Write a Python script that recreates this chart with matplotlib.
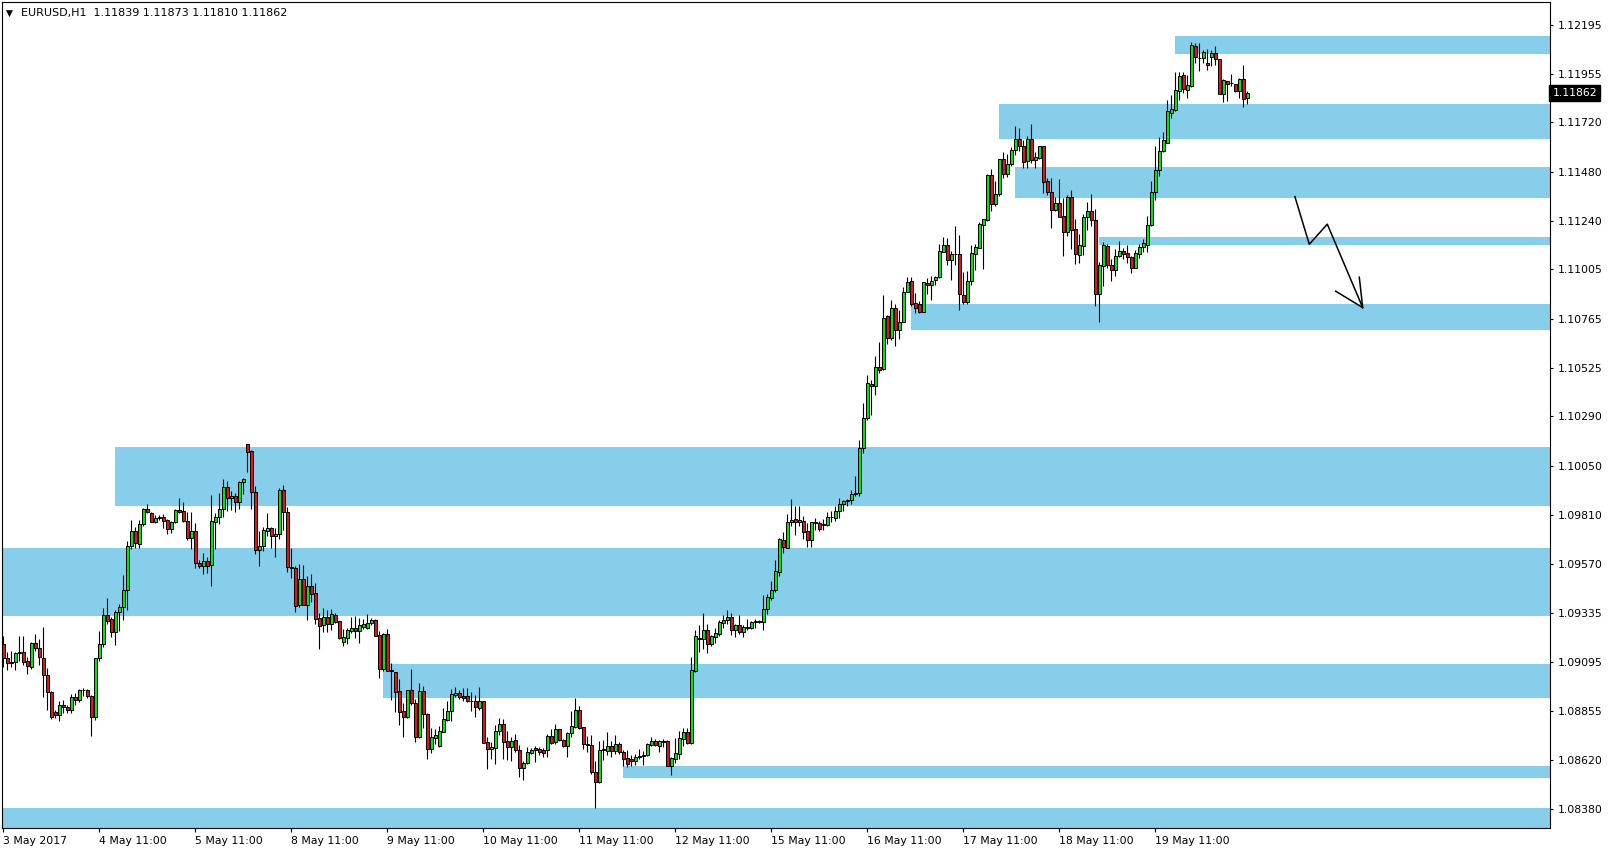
import numpy as np
import matplotlib.pyplot as plt
from matplotlib.patches import Rectangle

symbol = "EURUSD,H1"

# hourly candles, 3 May 11:00 -> 19 May
opens = [
    1.09183, 1.09113, 1.09095, 1.09094, 1.09138, 1.09142, 1.09100, 1.09068, 1.09186, 1.09162,
    1.09113, 1.09031, 1.08948, 1.08851, 1.08836, 1.08885, 1.08875, 1.08861, 1.08924, 1.08909,
    1.08959, 1.08957, 1.08930, 1.08825, 1.09113, 1.09181, 1.09322, 1.09304, 1.09238, 1.09337,
    1.09364, 1.09445, 1.09659, 1.09732, 1.09667, 1.09766, 1.09839, 1.09820, 1.09777, 1.09795,
    1.09800, 1.09784, 1.09740, 1.09776, 1.09833, 1.09829, 1.09779, 1.09696, 1.09732, 1.09577,
    1.09559, 1.09586, 1.09564, 1.09777, 1.09799, 1.09837, 1.09944, 1.09894, 1.09901, 1.09875,
    1.09969, 1.10153, 1.10119, 1.09920, 1.09637, 1.09658, 1.09734, 1.09745, 1.09705, 1.09718,
    1.09931, 1.09826, 1.09556, 1.09554, 1.09374, 1.09497, 1.09374, 1.09465, 1.09429, 1.09308,
    1.09272, 1.09314, 1.09277, 1.09324, 1.09295, 1.09194, 1.09213, 1.09246, 1.09259, 1.09243,
    1.09264, 1.09262, 1.09282, 1.09298, 1.09227, 1.09058, 1.09230, 1.09056, 1.09044, 1.08954,
    1.08856, 1.08829, 1.08958, 1.08894, 1.08732, 1.08954, 1.08840, 1.08673, 1.08723, 1.08688,
    1.08753, 1.08813, 1.08855, 1.08934, 1.08942, 1.08929, 1.08929, 1.08905, 1.08905, 1.08869,
    1.08905, 1.08704, 1.08670, 1.08675, 1.08759, 1.08793, 1.08709, 1.08683, 1.08714, 1.08668,
    1.08578, 1.08602, 1.08651, 1.08675, 1.08672, 1.08667, 1.08664, 1.08735, 1.08707, 1.08769,
    1.08715, 1.08688, 1.08748, 1.08777, 1.08861, 1.08779, 1.08696, 1.08691, 1.08560, 1.08510,
    1.08668, 1.08660, 1.08687, 1.08660, 1.08697, 1.08656, 1.08629, 1.08624, 1.08611, 1.08632,
    1.08637, 1.08640, 1.08692, 1.08711, 1.08684, 1.08708, 1.08711, 1.08587, 1.08623, 1.08647,
    1.08721, 1.08755, 1.08698, 1.09053, 1.09212, 1.09205, 1.09251, 1.09181, 1.09214, 1.09230,
    1.09283, 1.09298, 1.09314, 1.09249, 1.09273, 1.09238, 1.09265, 1.09262, 1.09290, 1.09293,
    1.09290, 1.09351, 1.09408, 1.09443, 1.09532, 1.09689, 1.09647, 1.09773, 1.09791, 1.09773,
    1.09781, 1.09732, 1.09686, 1.09776, 1.09771, 1.09760, 1.09763, 1.09799, 1.09793, 1.09827,
    1.09862, 1.09877, 1.09880, 1.09911, 1.09916, 1.10135, 1.10281, 1.10448, 1.10435, 1.10529,
    1.10521, 1.10775, 1.10670, 1.10815, 1.10707, 1.10747, 1.10892, 1.10947, 1.10840, 1.10837,
    1.10799, 1.10937, 1.10926, 1.10950, 1.10965, 1.11088, 1.11123, 1.11052, 1.11078, 1.11078,
    1.10880, 1.10845, 1.10947, 1.11078, 1.11110, 1.11222, 1.11245, 1.11462, 1.11320, 1.11370,
    1.11540, 1.11467, 1.11515, 1.11585, 1.11640, 1.11606, 1.11533, 1.11637, 1.11536, 1.11546,
    1.11603, 1.11433, 1.11379, 1.11295, 1.11326, 1.11264, 1.11188, 1.11357, 1.11201, 1.11076,
    1.11120, 1.11258, 1.11289, 1.11245, 1.10882, 1.11021, 1.11120, 1.11023, 1.11002, 1.11067,
    1.11094, 1.11086, 1.11065, 1.11013, 1.11081, 1.11113, 1.11124, 1.11218, 1.11378, 1.11489,
    1.11578, 1.11621, 1.11767, 1.11780, 1.11874, 1.11950, 1.11877, 1.11894, 1.12091, 1.12033,
    1.12030, 1.12009, 1.12035, 1.12057, 1.12028, 1.11856, 1.11921, 1.11910, 1.11907, 1.11874,
    1.11931, 1.11839,
]
highs = [
    1.09222, 1.09144, 1.09146, 1.09142, 1.09222, 1.09219, 1.09121, 1.09193, 1.09230, 1.09206,
    1.09267, 1.09065, 1.08951, 1.08862, 1.08906, 1.08908, 1.08886, 1.08940, 1.08943, 1.08963,
    1.08966, 1.08963, 1.08935, 1.09115, 1.09243, 1.09355, 1.09408, 1.09313, 1.09348, 1.09376,
    1.09518, 1.09684, 1.09787, 1.09753, 1.09786, 1.09842, 1.09863, 1.09826, 1.09810, 1.09808,
    1.09813, 1.09790, 1.09782, 1.09837, 1.09893, 1.09873, 1.09826, 1.09826, 1.09769, 1.09591,
    1.09624, 1.09607, 1.09907, 1.09818, 1.09915, 1.09983, 1.09977, 1.09927, 1.09915, 1.09977,
    1.09988, 1.10156, 1.10126, 1.09951, 1.09732, 1.09753, 1.09818, 1.09753, 1.09745, 1.09939,
    1.09956, 1.09847, 1.09651, 1.09559, 1.09570, 1.09567, 1.09513, 1.09523, 1.09478, 1.09335,
    1.09358, 1.09348, 1.09351, 1.09332, 1.09295, 1.09254, 1.09262, 1.09311, 1.09319, 1.09308,
    1.09303, 1.09329, 1.09308, 1.09303, 1.09246, 1.09235, 1.09254, 1.09088, 1.09044, 1.09012,
    1.08897, 1.08958, 1.09060, 1.08913, 1.08991, 1.08978, 1.08845, 1.08772, 1.08769, 1.08785,
    1.08869, 1.08907, 1.08962, 1.08971, 1.08958, 1.08966, 1.08968, 1.08950, 1.08934, 1.08971,
    1.08905, 1.08732, 1.08707, 1.08788, 1.08821, 1.08816, 1.08759, 1.08728, 1.08745, 1.08691,
    1.08613, 1.08680, 1.08678, 1.08686, 1.08683, 1.08678, 1.08745, 1.08769, 1.08792, 1.08769,
    1.08720, 1.08756, 1.08858, 1.08921, 1.08881, 1.08779, 1.08736, 1.08740, 1.08613, 1.08708,
    1.08713, 1.08752, 1.08708, 1.08740, 1.08703, 1.08668, 1.08664, 1.08643, 1.08647, 1.08671,
    1.08663, 1.08700, 1.08729, 1.08719, 1.08716, 1.08721, 1.08716, 1.08632, 1.08726, 1.08760,
    1.08773, 1.08773, 1.09118, 1.09248, 1.09275, 1.09332, 1.09278, 1.09226, 1.09259, 1.09299,
    1.09324, 1.09346, 1.09332, 1.09278, 1.09324, 1.09275, 1.09303, 1.09295, 1.09303, 1.09299,
    1.09419, 1.09424, 1.09487, 1.09592, 1.09697, 1.09726, 1.09814, 1.09888, 1.09854, 1.09854,
    1.09805, 1.09770, 1.09776, 1.09797, 1.09778, 1.09791, 1.09825, 1.09831, 1.09854, 1.09893,
    1.09883, 1.09886, 1.09932, 1.10001, 1.10175, 1.10354, 1.10490, 1.10467, 1.10584, 1.10650,
    1.10880, 1.10780, 1.10856, 1.10835, 1.10807, 1.10919, 1.10968, 1.10965, 1.10888, 1.10851,
    1.10945, 1.10961, 1.10971, 1.10974, 1.11128, 1.11162, 1.11159, 1.11094, 1.11216, 1.11172,
    1.10992, 1.10997, 1.11122, 1.11127, 1.11235, 1.11251, 1.11467, 1.11493, 1.11434, 1.11542,
    1.11575, 1.11566, 1.11600, 1.11700, 1.11690, 1.11634, 1.11653, 1.11711, 1.11574, 1.11606,
    1.11606, 1.11449, 1.11449, 1.11355, 1.11444, 1.11350, 1.11366, 1.11391, 1.11248, 1.11175,
    1.11272, 1.11332, 1.11371, 1.11300, 1.11042, 1.11136, 1.11128, 1.11055, 1.11104, 1.11144,
    1.11109, 1.11123, 1.11067, 1.11096, 1.11128, 1.11150, 1.11262, 1.11432, 1.11602, 1.11647,
    1.11673, 1.11829, 1.11853, 1.11962, 1.11963, 1.11962, 1.11950, 1.12109, 1.12104, 1.12104,
    1.12069, 1.12077, 1.12069, 1.12091, 1.12028, 1.11929, 1.11921, 1.11955, 1.11907, 1.11934,
    1.11999, 1.11873,
]
lows = [
    1.09070, 1.09057, 1.09068, 1.09057, 1.09100, 1.09079, 1.09034, 1.09060, 1.09146, 1.09081,
    1.08924, 1.08859, 1.08818, 1.08822, 1.08809, 1.08846, 1.08846, 1.08846, 1.08885, 1.08901,
    1.08930, 1.08919, 1.08736, 1.08810, 1.09097, 1.09167, 1.09279, 1.09215, 1.09175, 1.09243,
    1.09300, 1.09345, 1.09643, 1.09651, 1.09648, 1.09758, 1.09821, 1.09773, 1.09769, 1.09786,
    1.09748, 1.09718, 1.09721, 1.09769, 1.09818, 1.09776, 1.09688, 1.09645, 1.09552, 1.09551,
    1.09523, 1.09526, 1.09466, 1.09646, 1.09766, 1.09802, 1.09829, 1.09834, 1.09826, 1.09839,
    1.09910, 1.10020, 1.09839, 1.09620, 1.09559, 1.09632, 1.09705, 1.09648, 1.09603, 1.09695,
    1.09735, 1.09530, 1.09505, 1.09340, 1.09360, 1.09374, 1.09301, 1.09384, 1.09280, 1.09157,
    1.09238, 1.09238, 1.09251, 1.09283, 1.09206, 1.09173, 1.09181, 1.09235, 1.09209, 1.09189,
    1.09254, 1.09256, 1.09275, 1.09223, 1.09018, 1.09050, 1.09050, 1.08910, 1.08853, 1.08788,
    1.08732, 1.08821, 1.08885, 1.08707, 1.08723, 1.08772, 1.08623, 1.08651, 1.08694, 1.08680,
    1.08753, 1.08809, 1.08809, 1.08923, 1.08913, 1.08907, 1.08902, 1.08858, 1.08829, 1.08861,
    1.08699, 1.08576, 1.08623, 1.08597, 1.08740, 1.08625, 1.08618, 1.08613, 1.08659, 1.08537,
    1.08521, 1.08597, 1.08646, 1.08610, 1.08642, 1.08634, 1.08630, 1.08694, 1.08696, 1.08712,
    1.08683, 1.08634, 1.08732, 1.08772, 1.08767, 1.08672, 1.08659, 1.08550, 1.08382, 1.08508,
    1.08619, 1.08643, 1.08630, 1.08647, 1.08647, 1.08587, 1.08583, 1.08587, 1.08595, 1.08624,
    1.08591, 1.08635, 1.08687, 1.08684, 1.08659, 1.08681, 1.08587, 1.08546, 1.08603, 1.08624,
    1.08687, 1.08695, 1.08695, 1.09048, 1.09141, 1.09158, 1.09136, 1.09170, 1.09186, 1.09222,
    1.09259, 1.09280, 1.09226, 1.09218, 1.09231, 1.09218, 1.09251, 1.09257, 1.09262, 1.09283,
    1.09248, 1.09327, 1.09397, 1.09436, 1.09515, 1.09627, 1.09647, 1.09754, 1.09713, 1.09757,
    1.09695, 1.09656, 1.09652, 1.09737, 1.09734, 1.09737, 1.09757, 1.09776, 1.09781, 1.09797,
    1.09827, 1.09854, 1.09864, 1.09903, 1.09903, 1.10111, 1.10270, 1.10294, 1.10394, 1.10500,
    1.10513, 1.10641, 1.10663, 1.10629, 1.10666, 1.10747, 1.10892, 1.10828, 1.10794, 1.10793,
    1.10797, 1.10885, 1.10853, 1.10929, 1.10961, 1.11088, 1.11026, 1.10953, 1.11026, 1.10807,
    1.10835, 1.10837, 1.10929, 1.11002, 1.11106, 1.11007, 1.11240, 1.11289, 1.11310, 1.11361,
    1.11449, 1.11452, 1.11507, 1.11560, 1.11580, 1.11499, 1.11499, 1.11523, 1.11499, 1.11540,
    1.11376, 1.11366, 1.11203, 1.11289, 1.11258, 1.11067, 1.11165, 1.11105, 1.11031, 1.11036,
    1.11075, 1.11196, 1.11216, 1.10824, 1.10746, 1.10921, 1.11010, 1.10948, 1.10973, 1.11063,
    1.11054, 1.11034, 1.10986, 1.11010, 1.11057, 1.11090, 1.11090, 1.11213, 1.11343, 1.11456,
    1.11573, 1.11618, 1.11738, 1.11772, 1.11829, 1.11861, 1.11840, 1.11889, 1.12007, 1.11971,
    1.12007, 1.11975, 1.11991, 1.11999, 1.11856, 1.11816, 1.11821, 1.11894, 1.11869, 1.11837,
    1.11792, 1.11810,
]
closes = [
    1.09113, 1.09089, 1.09089, 1.09138, 1.09144, 1.09095, 1.09073, 1.09188, 1.09162, 1.09117,
    1.09029, 1.08948, 1.08825, 1.08836, 1.08885, 1.08874, 1.08861, 1.08925, 1.08912, 1.08959,
    1.08956, 1.08927, 1.08825, 1.09113, 1.09181, 1.09322, 1.09296, 1.09238, 1.09337, 1.09363,
    1.09445, 1.09659, 1.09732, 1.09672, 1.09766, 1.09837, 1.09826, 1.09777, 1.09795, 1.09800,
    1.09782, 1.09740, 1.09776, 1.09833, 1.09826, 1.09779, 1.09696, 1.09732, 1.09575, 1.09559,
    1.09586, 1.09559, 1.09781, 1.09799, 1.09837, 1.09944, 1.09894, 1.09901, 1.09875, 1.09969,
    1.09983, 1.10114, 1.09920, 1.09637, 1.09658, 1.09737, 1.09745, 1.09705, 1.09718, 1.09931,
    1.09826, 1.09556, 1.09554, 1.09369, 1.09497, 1.09374, 1.09465, 1.09424, 1.09303, 1.09270,
    1.09314, 1.09277, 1.09329, 1.09291, 1.09212, 1.09215, 1.09251, 1.09259, 1.09243, 1.09275,
    1.09277, 1.09283, 1.09298, 1.09223, 1.09058, 1.09230, 1.09053, 1.09049, 1.08950, 1.08853,
    1.08829, 1.08958, 1.08894, 1.08732, 1.08954, 1.08840, 1.08670, 1.08728, 1.08738, 1.08759,
    1.08816, 1.08856, 1.08939, 1.08945, 1.08923, 1.08920, 1.08907, 1.08903, 1.08874, 1.08905,
    1.08702, 1.08670, 1.08681, 1.08759, 1.08793, 1.08707, 1.08683, 1.08711, 1.08668, 1.08578,
    1.08604, 1.08655, 1.08667, 1.08664, 1.08659, 1.08654, 1.08735, 1.08702, 1.08769, 1.08715,
    1.08688, 1.08751, 1.08783, 1.08861, 1.08775, 1.08694, 1.08689, 1.08557, 1.08513, 1.08668,
    1.08672, 1.08687, 1.08660, 1.08697, 1.08655, 1.08625, 1.08596, 1.08611, 1.08632, 1.08637,
    1.08643, 1.08697, 1.08711, 1.08690, 1.08708, 1.08705, 1.08587, 1.08629, 1.08651, 1.08724,
    1.08753, 1.08698, 1.09056, 1.09222, 1.09207, 1.09251, 1.09181, 1.09222, 1.09236, 1.09290,
    1.09299, 1.09314, 1.09249, 1.09273, 1.09238, 1.09265, 1.09262, 1.09290, 1.09294, 1.09290,
    1.09351, 1.09410, 1.09444, 1.09538, 1.09694, 1.09652, 1.09776, 1.09786, 1.09775, 1.09786,
    1.09729, 1.09686, 1.09776, 1.09770, 1.09739, 1.09764, 1.09799, 1.09801, 1.09830, 1.09864,
    1.09878, 1.09883, 1.09912, 1.09917, 1.10134, 1.10281, 1.10451, 1.10435, 1.10529, 1.10516,
    1.10767, 1.10670, 1.10815, 1.10707, 1.10747, 1.10893, 1.10942, 1.10837, 1.10814, 1.10799,
    1.10942, 1.10926, 1.10948, 1.10966, 1.11093, 1.11123, 1.11052, 1.11078, 1.11080, 1.10882,
    1.10843, 1.10947, 1.11083, 1.11114, 1.11225, 1.11248, 1.11462, 1.11321, 1.11370, 1.11540,
    1.11467, 1.11515, 1.11585, 1.11640, 1.11606, 1.11528, 1.11637, 1.11536, 1.11549, 1.11603,
    1.11431, 1.11378, 1.11295, 1.11326, 1.11261, 1.11188, 1.11357, 1.11198, 1.11078, 1.11123,
    1.11261, 1.11289, 1.11245, 1.10882, 1.11023, 1.11125, 1.11023, 1.10999, 1.11070, 1.11094,
    1.11080, 1.11063, 1.11013, 1.11084, 1.11114, 1.11132, 1.11221, 1.11380, 1.11489, 1.11581,
    1.11631, 1.11775, 1.11785, 1.11877, 1.11945, 1.11882, 1.11902, 1.12096, 1.12035, 1.12030,
    1.12060, 1.11996, 1.12057, 1.12026, 1.11856, 1.11923, 1.11908, 1.11913, 1.11874, 1.11931,
    1.11834, 1.11862,
]

tick_bars = [0, 24, 48, 72, 96, 120, 144, 168, 192, 216, 240, 264, 288]
tick_labels = ["3 May 2017", "4 May 11:00", "5 May 11:00", "8 May 11:00", "9 May 11:00",
               "10 May 11:00", "11 May 11:00", "12 May 11:00", "15 May 11:00",
               "16 May 11:00", "17 May 11:00", "18 May 11:00", "19 May 11:00"]
price_ticks = [1.12195, 1.11955, 1.11720, 1.11480, 1.11240, 1.11005, 1.10765, 1.10525,
               1.10290, 1.10050, 1.09810, 1.09570, 1.09335, 1.09095, 1.08855, 1.08620, 1.08380]

# supply / demand zones: first bar, top, bottom
zone_start = [293, 249, 253, 274, 227, 28, -1, 95, 155, -1]
zone_top = [1.12140, 1.11809, 1.11502, 1.11162, 1.10836, 1.10140, 1.09649, 1.09085, 1.08589, 1.08384]
zone_bottom = [1.12052, 1.11638, 1.11351, 1.11123, 1.10709, 1.09853, 1.09318, 1.08919, 1.08530, 1.08280]

# hand drawn arrow
arrow_x = [322.9, 326.5, 331.0, 339.85]
arrow_y = [1.11358, 1.11126, 1.11224, 1.10818]
head_x = [339.0, 339.85, 333.1]
head_y = [1.10966, 1.10818, 1.10898]

W, H = 1610, 852
fig = plt.figure(figsize=(W / 100, H / 100), dpi=100)
ax = fig.add_axes([2 / W, 24 / H, 1548 / W, 826.5 / H])

x0, x1 = -0.325, 386.675
ax.set_xlim(x0, x1)
ax.set_ylim(1.08287, 1.12307)

for s, t, b in zip(zone_start, zone_top, zone_bottom):
    left = max(s - 0.1, x0 - 1)
    ax.add_patch(Rectangle((left, b), x1 + 1 - left, t - b, facecolor="#87CEEB",
                           edgecolor="none", zorder=1))

o = np.array(opens)
h = np.array(highs)
l = np.array(lows)
c = np.array(closes)
x = np.arange(len(c))

ax.vlines(x, l, h, color="black", linewidth=0.8, zorder=3)
up = c > o
dn = c < o
eq = ~(up | dn)
lo = np.minimum(o, c)
ht = np.abs(c - o)
ax.bar(x[up], ht[up], bottom=lo[up], width=0.62, color="#19D819", edgecolor="black",
       linewidth=0.7, zorder=4)
ax.bar(x[dn], ht[dn], bottom=lo[dn], width=0.62, color="#D81818", edgecolor="black",
       linewidth=0.7, zorder=4)
ax.hlines(c[eq], x[eq] - 0.35, x[eq] + 0.35, color="black", linewidth=0.8, zorder=4)

# arrow
ax.plot(arrow_x, arrow_y, color="black", linewidth=1.1, zorder=5)
ax.plot(head_x, head_y, color="black", linewidth=1.1, zorder=5)

# axes styling
for sp in ax.spines.values():
    sp.set_color("black")
    sp.set_linewidth(0.8)
ax.yaxis.tick_right()
ax.set_yticks(price_ticks)
ax.set_yticklabels([f"{p:.5f}" for p in price_ticks])
ax.tick_params(axis="y", direction="out", length=2.5, width=0.8, pad=3, labelsize=7.8,
               colors="black")
ax.set_xticks(tick_bars)
ax.set_xticklabels(tick_labels)
ax.tick_params(axis="x", direction="out", length=3, width=0.8, pad=2.5, labelsize=7.8,
               colors="black")
for lbl in ax.get_xticklabels():
    lbl.set_horizontalalignment("left")

# current price box
ax.text(1.0015, closes[-1], f"{closes[-1]:.5f}", transform=ax.get_yaxis_transform(),
        ha="left", va="center", fontsize=7.8, color="white", zorder=6, clip_on=False,
        bbox=dict(boxstyle="square,pad=0.3", fc="black", ec="black"))

# header
fig.text(6 / W, 1 - 13 / H, "\u25bc", fontsize=6.5, va="center", ha="left", color="black")
fig.text(21 / W, 1 - 13 / H,
         f"{symbol}  {opens[-1]:.5f} {highs[-1]:.5f} {lows[-1]:.5f} {closes[-1]:.5f}",
         fontsize=8, va="center", ha="left", color="black")

fig.savefig("out.png", dpi=100, facecolor="white")
